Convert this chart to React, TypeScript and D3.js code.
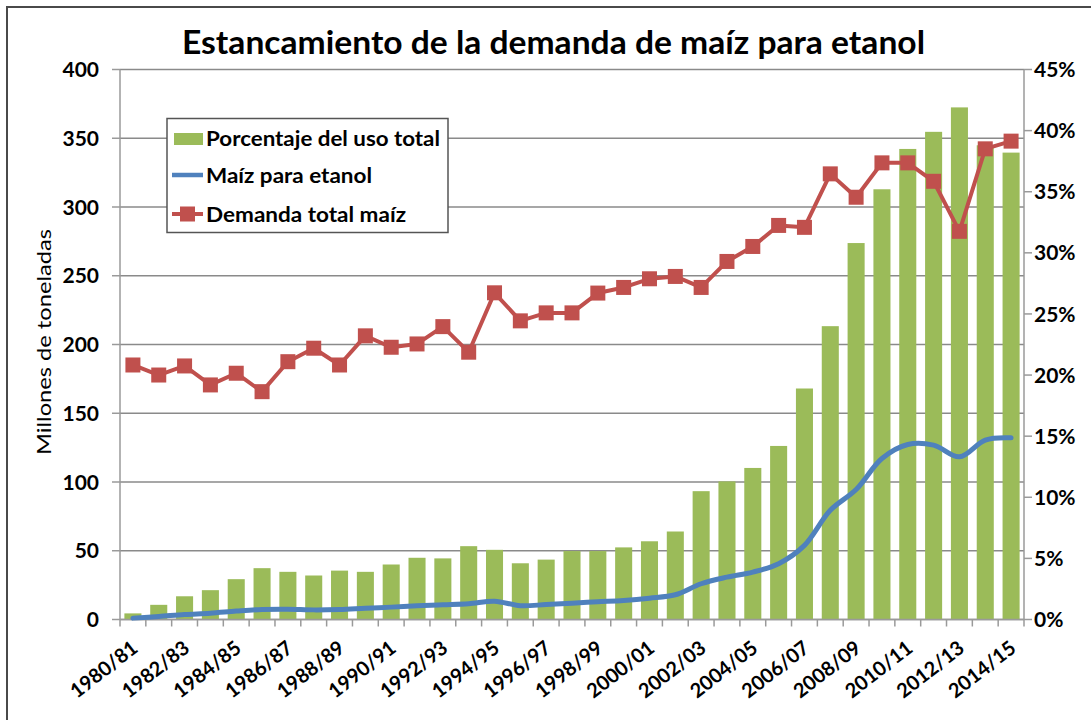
import React from 'react';
import * as d3 from 'd3';

const categories = [
  '1980/81','1981/82','1982/83','1983/84','1984/85','1985/86','1986/87','1987/88','1988/89','1989/90',
  '1990/91','1991/92','1992/93','1993/94','1994/95','1995/96','1996/97','1997/98','1998/99','1999/00',
  '2000/01','2001/02','2002/03','2003/04','2004/05','2005/06','2006/07','2007/08','2008/09','2009/10',
  '2010/11','2011/12','2012/13','2013/14','2014/15'
];

// Porcentaje del uso total (%), eje derecho
const porcentajeUso = [
  0.5, 1.2, 1.9, 2.4, 3.3, 4.2, 3.9, 3.6, 4.0, 3.9,
  4.5, 5.05, 5.0, 6.0, 5.7, 4.6, 4.9, 5.6, 5.6, 5.9,
  6.4, 7.2, 10.5, 11.3, 12.4, 14.2, 18.9, 24.0, 30.8, 35.2,
  38.5, 39.9, 41.9, 38.8, 38.2
];

// Maíz para etanol (millones de toneladas)
const maizEtanol = [
  1.0, 2.2, 3.6, 4.6, 6.1, 7.3, 7.5, 7.0, 7.3, 8.2,
  9.0, 10.0, 10.7, 11.4, 13.3, 10.0, 10.9, 11.9, 12.9, 13.8,
  15.5, 18.0, 26.0, 30.8, 34.5, 40.6, 53.9, 79.4, 94.5, 117.1,
  127.3, 126.8, 118.3, 130.5, 132.1
];

// Demanda total maíz (millones de toneladas)
const demandaTotal = [
  185.1, 177.8, 184.4, 170.6, 179.1, 165.7, 187.5, 197.3, 185.1, 206.3,
  198.0, 200.4, 213.0, 194.4, 237.6, 217.2, 223.0, 223.0, 237.4, 241.5,
  247.8, 249.5, 241.5, 260.4, 271.3, 286.6, 285.2, 324.1, 307.1, 332.1,
  332.1, 318.7, 282.3, 342.3, 347.9
];

const leftTicks = [0, 50, 100, 150, 200, 250, 300, 350, 400];
const rightTicks = [0, 5, 10, 15, 20, 25, 30, 35, 40, 45];

const title = 'Estancamiento de la demanda de maíz para etanol';
const yTitle = 'Millones de toneladas';
const legendLabels = ['Porcentaje del uso total', 'Maíz para etanol', 'Demanda total maíz'];

const GREEN = '#9BBB59';
const BLUE = '#4F81BD';
const RED = '#C0504D';
const FONT = "Lato, 'Open Sans', sans-serif";

export default function App() {
  const W = 1091, H = 720;
  const L = 120, R = 1024, T = 69.5, B = 619.5;

  const x = d3.scaleBand<string>().domain(categories).range([L, R]).paddingInner(0.34).paddingOuter(0.17);
  const step = x.step();
  const cx = (c: string) => (x(c) as number) + x.bandwidth() / 2;
  const yL = d3.scaleLinear().domain([0, 400]).range([B, T]);
  const yR = d3.scaleLinear().domain([0, 45]).range([B, T]);

  const blueLine = d3.line<number>()
    .x((_, i) => cx(categories[i]))
    .y(d => yL(d))
    .curve(d3.curveCatmullRom.alpha(0.5));
  const redLine = d3.line<number>()
    .x((_, i) => cx(categories[i]))
    .y(d => yL(d));

  const boundaries = d3.range(categories.length + 1).map(i => L + i * step);
  const ms = 15;

  return (
    <svg width={W} height={H} style={{ position: 'absolute', left: 0, top: 0, background: '#fff' }} fontFamily={FONT}>
      <rect x={0} y={0} width={W} height={H} fill="#fff" />
      <rect x={7} y={7} width={W + 50} height={H + 50} fill="none" stroke="#4a4a4a" strokeWidth={2} />

      <text x={553.5} y={54} textAnchor="middle" fontSize={32} fontWeight={700} fill="#000"
        textLength={743} lengthAdjust="spacingAndGlyphs">{title}</text>

      {/* gridlines */}
      {leftTicks.map(t => (
        <line key={'g' + t} x1={L} x2={R} y1={yL(t)} y2={yL(t)} stroke="#8a8a8a" strokeWidth={1.5} />
      ))}

      {/* bars */}
      {categories.map((c, i) => (
        <rect key={'b' + c} x={x(c)} y={yR(porcentajeUso[i])} width={x.bandwidth()} height={B - yR(porcentajeUso[i])} fill={GREEN} />
      ))}

      {/* axes */}
      <line x1={L} x2={L} y1={T} y2={B} stroke="#9a9a9a" strokeWidth={1.5} />
      <line x1={R} x2={R} y1={T} y2={B} stroke="#9a9a9a" strokeWidth={1.5} />
      <line x1={L} x2={R} y1={B} y2={B} stroke="#9a9a9a" strokeWidth={1.5} />
      {leftTicks.map(t => (
        <line key={'lt' + t} x1={L - 8} x2={L} y1={yL(t)} y2={yL(t)} stroke="#9a9a9a" strokeWidth={1.5} />
      ))}
      {rightTicks.map(t => (
        <line key={'rt' + t} x1={R} x2={R + 8} y1={yR(t)} y2={yR(t)} stroke="#9a9a9a" strokeWidth={1.5} />
      ))}
      {boundaries.map((bx, i) => (
        <line key={'xt' + i} x1={bx} x2={bx} y1={B} y2={B + 7} stroke="#9a9a9a" strokeWidth={1.5} />
      ))}

      {/* lines */}
      <path d={blueLine(maizEtanol) || ''} fill="none" stroke={BLUE} strokeWidth={5} strokeLinejoin="round" strokeLinecap="round" />
      <path d={redLine(demandaTotal) || ''} fill="none" stroke={RED} strokeWidth={4} strokeLinejoin="round" />
      {categories.map((c, i) => (
        <rect key={'m' + c} x={cx(c) - ms / 2} y={yL(demandaTotal[i]) - ms / 2} width={ms} height={ms} fill={RED} />
      ))}

      {/* tick labels */}
      {leftTicks.map(t => (
        <text key={'ll' + t} x={99} y={yL(t)} dy="0.36em" textAnchor="end" fontSize={21} fontWeight={700} fill="#000">{t}</text>
      ))}
      {rightTicks.map(t => (
        <text key={'rl' + t} x={1034} y={yR(t)} dy="0.36em" textAnchor="start" fontSize={21} fontWeight={700} fill="#000">{t + '%'}</text>
      ))}
      {categories.map((c, i) => i % 2 === 0 ? (
        <text key={'xl' + c} transform={`translate(${cx(c) + 2},${645}) rotate(-38)`} dy="0.35em" textAnchor="end" fontSize={20} fontWeight={700} fill="#000">{c}</text>
      ) : null)}

      <text transform={`translate(51,342) rotate(-90)`} textAnchor="middle" fontSize={20} fill="#000"
        textLength={226} lengthAdjust="spacingAndGlyphs">{yTitle}</text>

      {/* legend */}
      <rect x={167} y={118.5} width={281} height={114} fill="#fff" stroke="#555" strokeWidth={1.5} />
      <rect x={174} y={133} width={29} height={12} fill={GREEN} />
      <text x={206} y={146} fontSize={21} fontWeight={700} fill="#000" textLength={234} lengthAdjust="spacingAndGlyphs">{legendLabels[0]}</text>
      <line x1={172} x2={203} y1={175} y2={175} stroke={BLUE} strokeWidth={4.5} />
      <text x={206} y={183} fontSize={21} fontWeight={700} fill="#000" textLength={166} lengthAdjust="spacingAndGlyphs">{legendLabels[1]}</text>
      <line x1={172} x2={203} y1={214} y2={214} stroke={RED} strokeWidth={4} />
      <rect x={187.5 - ms / 2} y={214 - ms / 2} width={ms} height={ms} fill={RED} />
      <text x={206} y={222} fontSize={21} fontWeight={700} fill="#000" textLength={200} lengthAdjust="spacingAndGlyphs">{legendLabels[2]}</text>
    </svg>
  );
}
